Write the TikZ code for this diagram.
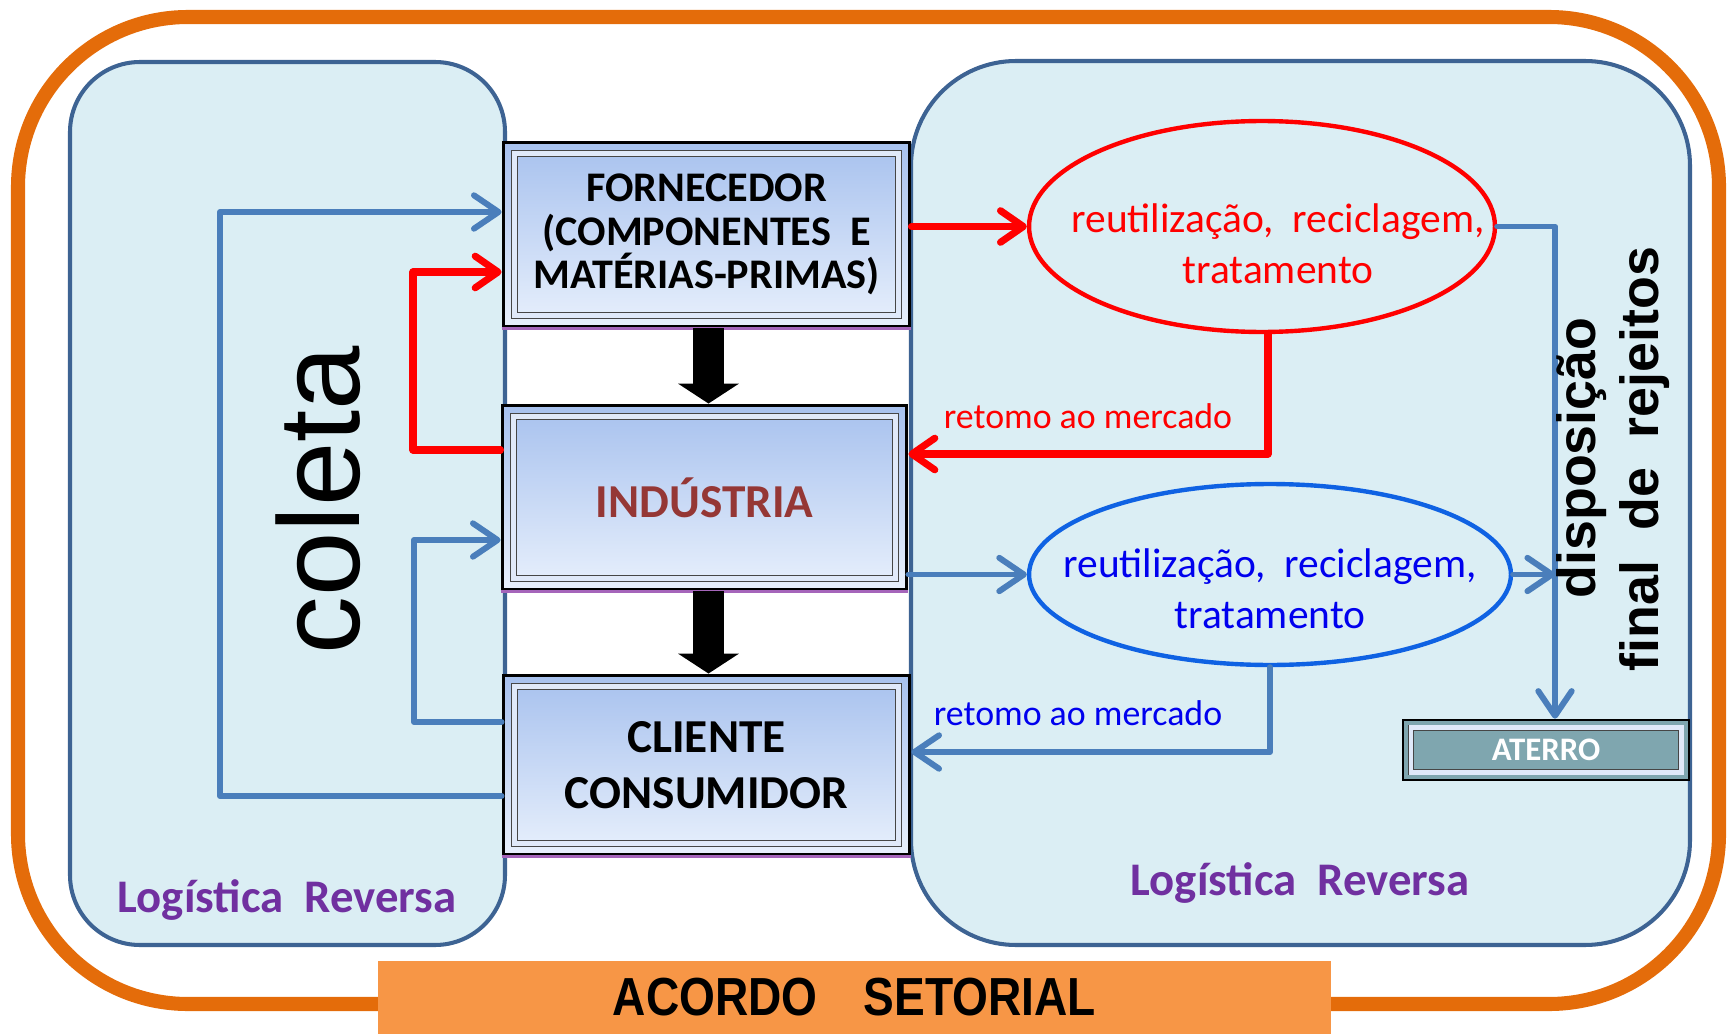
\documentclass[tikz,border=0pt]{standalone}
\usepackage{fontspec}
\setmainfont{Carlito}
\newfontfamily\arialfont{Liberation Sans}
\usetikzlibrary{arrows.meta}
\usetikzlibrary{shapes.geometric}
\tikzset{>=latex, line width=1.0pt}
\definecolor{frameorange}{HTML}{E46C0A}
\definecolor{panelfill}{HTML}{DBEEF4}
\definecolor{panelline}{HTML}{3D6393}
\definecolor{steel}{HTML}{4A7EBB}
\definecolor{boxtop}{HTML}{A7C1EE}
\definecolor{boxbot}{HTML}{E8F0FC}
\definecolor{boxpurple}{HTML}{A565BA}
\definecolor{industxt}{HTML}{953735}
\definecolor{ellblue}{HTML}{0F62E3}
\definecolor{textblue}{HTML}{0000EE}
\definecolor{revpurple}{HTML}{7030A0}
\definecolor{aterrofill}{HTML}{7FA6AF}
\definecolor{acordofill}{HTML}{F79646}

\begin{document}
\begin{tikzpicture}[x=0.02cm,y=-0.02cm,
  panel/.style={draw=panelline, fill=panelfill, line width=2.3pt},
  flowbox/.style={rectangle, draw=black, line width=1.7pt, top color=boxtop,
    bottom color=boxbot, align=center, font=\bfseries\fontsize{24}{24.9}\selectfont},
  bevelrim/.style={draw=gray!55!black, line width=0.5pt, double=white!65!boxtop, double distance=2.5pt},
  bluearr/.style={draw=steel, line width=3.4pt, line cap=round, line join=round,
    -{Straight Barb[round,length=14pt,width=19pt]}},
  redarr/.style={draw=red, line width=4pt, line cap=round, line join=round,
    -{Straight Barb[round,length=13pt,width=18pt]}},
  bigarr/.style={line width=17.6pt, -{Triangle[length=11.3pt,width=34.6pt,line width=0pt]}},
  reuse/.style={ellipse, line width=2.5pt, align=center, inner xsep=-1.5cm, inner ysep=-0.6cm,
    font=\fontsize{23.6}{28.9}\selectfont},
  market/.style={anchor=base, font=\fontsize{20.4}{24}\selectfont},
  revlog/.style={anchor=base, text=revpurple, font=\bfseries\fontsize{26.6}{30}\selectfont},
  vtext/.style={rotate=90, font=\arialfont\bfseries\fontsize{30.6}{34}\selectfont}]
  \useasboundingbox (0,0) rectangle (1728,1034);

  % frame and panels
  \draw[draw=frameorange, line width=8pt, rounded corners=3.4cm] (18,17) rectangle (1719,1004);
  \draw[panel, rounded corners=1.4cm] (70,62) rectangle (505,945);
  \draw[panel, rounded corners=2.1cm] (911,61) rectangle (1690,945);

  % chain
  \node[flowbox, minimum width=8.14cm, minimum height=3.7cm]
    (fornecedor) at (706.5,234.5) {FORNECEDOR\\(COMPONENTES\ \ E\\MATÉRIAS-PRIMAS)};
  \node[flowbox, minimum width=8.1cm, minimum height=3.7cm, text=industxt,
    font=\bfseries\fontsize{26.9}{30}\selectfont]
    (industria) at (704.5,497.5) {INDÚSTRIA};
  \node[flowbox, minimum width=8.14cm, minimum height=3.6cm,
    font=\bfseries\fontsize{26.9}{31.7}\selectfont]
    (cliente) at (706.5,765) {CLIENTE\\CONSUMIDOR};
  \foreach \b in {fornecedor,industria,cliente} {
    \draw[bevelrim] ([shift={(13,-13)}]\b.south west) rectangle ([shift={(-13,13)}]\b.north east);
    \draw[boxpurple, line width=2pt] (\b.south west) -- (\b.south east);
  }
  \draw[bigarr] ([xshift=0.04cm]fornecedor.south) -- ([xshift=0.04cm]fornecedor.south |- industria.north);
  \draw[bigarr] ([xshift=0.08cm]industria.south) -- ([xshift=0.08cm]industria.south |- cliente.north);

  % coleta
  \node[rotate=90, font=\arialfont\fontsize{65.8}{70}\selectfont] (coleta) at (318,500) {coleta};
  \coordinate (outerloop) at (220,212);
  \coordinate (innerloop) at (414,540);
  \coordinate (redloop) at (413,272);
  \draw[bluearr] ([yshift=-0.62cm]cliente.west) -| (outerloop) -- (outerloop -| fornecedor.west);
  \draw[bluearr] ([yshift=0.86cm]cliente.west) -| (innerloop) -- (innerloop -| industria.west);
  \draw[redarr] ([yshift=0.95cm]industria.west) -| (redloop) -- (redloop -| fornecedor.west);

  % reverse flows
  \node[reuse, draw=red, text=red, minimum width=9.32cm, minimum height=4.22cm]
    (reuso) at (1262,226.5)
    {\hspace*{0.64cm}\rule{0pt}{1.58cm}reutilização,\ \ reciclagem,\\\hspace*{0.64cm}tratamento\strut};
  \node[reuse, draw=ellblue, text=textblue, minimum width=9.64cm, minimum height=3.62cm]
    (reciclo) at (1270,574.5) {\rule{0pt}{1.46cm}reutilização,\ \ reciclagem,\\tratamento\strut};
  \draw[redarr] (reuso.west -| fornecedor.east) -- (reuso.west);
  \draw[redarr] ([xshift=0.12cm]reuso.south) |- ([yshift=0.87cm]industria.east);
  \draw[bluearr] (reciclo.west -| industria.east) -- (reciclo.west);
  \draw[bluearr] (reciclo.south) |- ([yshift=0.26cm]cliente.east);
  \node[market, text=red] (retornoA) at (1088,428) {retomo ao mercado};
  \node[market, text=textblue] (retornoB) at (1078,725) {retomo ao mercado};

  % rejeitos
  \node[rectangle, draw=black, line width=1.5pt, fill=aterrofill, minimum width=5.72cm,
    minimum height=1.2cm, text=white, font=\bfseries\fontsize{18.7}{20}\selectfont]
    (aterro) at (1546,750) {ATERRO};
  \draw[bevelrim] ([shift={(9,-9)}]aterro.south west) rectangle ([shift={(-9,9)}]aterro.north east);
  \coordinate (dispo) at (1555,222);
  \draw[bluearr] (reuso.east) -| (aterro.north -| dispo);
  \draw[bluearr] (reciclo.east) -- (reciclo.east -| dispo);
  \node[vtext] (disposicao) at (1582,458) {disposição};
  \node[vtext] (rejeitos) at (1645,459) {final\ \ de\ \ rejeitos};

  % labels
  \node[revlog] (revleft) at (287,912) {Logística\ \ Reversa};
  \node[revlog] (revright) at (1300,895) {Logística\ \ Reversa};
  \node[fill=acordofill, minimum width=19.06cm, minimum height=1.46cm, inner sep=0pt,
    font=\arialfont\bfseries\fontsize{30.5}{32}\selectfont]
    (acordo) at (854.5,997.5) {\scalebox{0.86}[1]{ACORDO\hspace{1em}SETORIAL}};
\end{tikzpicture}
\end{document}
